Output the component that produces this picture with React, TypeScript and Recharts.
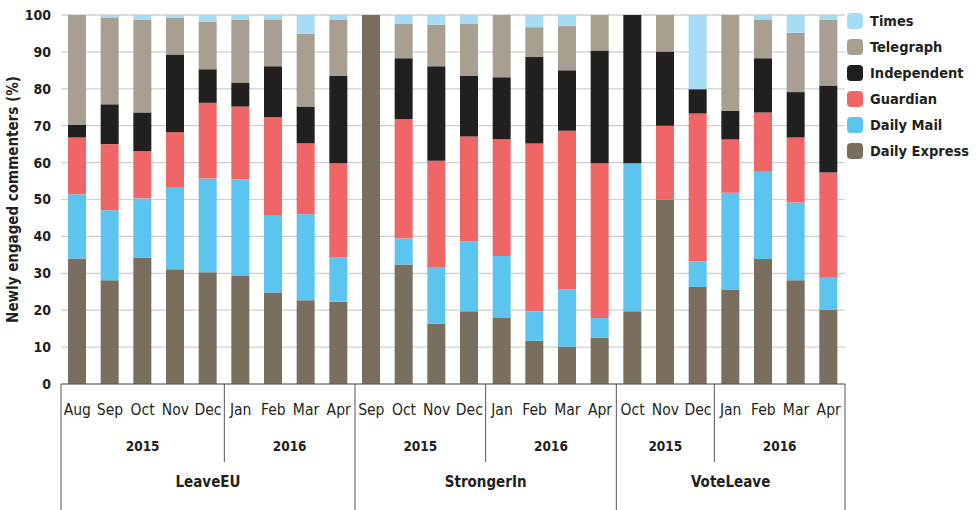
import React from 'react';
import { BarChart, Bar, XAxis, YAxis, CartesianGrid } from 'recharts';

const months = ['Aug','Sep','Oct','Nov','Dec','Jan','Feb','Mar','Apr','Sep','Oct','Nov','Dec','Jan','Feb','Mar','Apr','Oct','Nov','Dec','Jan','Feb','Mar','Apr'];
const years = ['2015','2015','2015','2015','2015','2016','2016','2016','2016','2015','2015','2015','2015','2016','2016','2016','2016','2015','2015','2015','2016','2016','2016','2016'];
const campaigns = ['LeaveEU','LeaveEU','LeaveEU','LeaveEU','LeaveEU','LeaveEU','LeaveEU','LeaveEU','LeaveEU','StrongerIn','StrongerIn','StrongerIn','StrongerIn','StrongerIn','StrongerIn','StrongerIn','StrongerIn','VoteLeave','VoteLeave','VoteLeave','VoteLeave','VoteLeave','VoteLeave','VoteLeave'];

const dailyExpress = [34.0,28.1,34.3,31.1,30.3,29.3,24.8,22.7,22.3, 100,32.4,16.4,19.7,17.9,11.7,10.1,12.5, 19.7,50.0,26.3,25.6,33.9,28.1,20.1];
const dailyMail = [17.4,19.0,16.0,22.1,25.4,26.1,20.8,23.3,12.0, 0,7.0,15.3,19.0,16.8,8.0,15.5,5.4, 40.1,0,6.9,26.2,23.6,21.1,8.7];
const guardian = [15.4,17.9,12.8,15.0,20.5,19.8,26.7,19.2,25.5, 0,32.4,28.8,28.4,31.6,45.5,43.0,41.9, 0,20.0,40.1,14.5,16.1,17.6,28.5];
const independent = [3.5,10.8,10.5,21.1,9.1,6.5,13.8,10.0,23.7, 0,16.5,25.6,16.4,16.8,23.4,16.4,30.6, 40.2,20.1,6.6,7.7,14.7,12.3,23.6];
const telegraph = [29.7,23.5,25.2,10.0,12.8,17.1,12.7,19.7,15.3, 0,9.4,11.3,14.2,16.9,8.1,12.0,9.6, 0,9.9,0,26.0,10.5,16.1,17.9];
const times = [0,0.7,1.2,0.7,1.9,1.2,1.2,5.1,1.2, 0,2.3,2.6,2.3,0,3.3,3.0,0, 0,0,20.1,0,1.2,4.8,1.2];

const yTicks = [0,10,20,30,40,50,60,70,80,90,100];

const series = [
  { key: 'express', name: 'Daily Express', color: '#7a6e5e', values: dailyExpress },
  { key: 'mail', name: 'Daily Mail', color: '#5bc5ef', values: dailyMail },
  { key: 'guardian', name: 'Guardian', color: '#f06666', values: guardian },
  { key: 'independent', name: 'Independent', color: '#221f1f', values: independent },
  { key: 'telegraph', name: 'Telegraph', color: '#a89f91', values: telegraph },
  { key: 'times', name: 'Times', color: '#a6dcf5', values: times },
];

const data = months.map((m, i) => {
  const row: any = { key: i, month: m, year: years[i], campaign: campaigns[i] };
  series.forEach(s => { row[s.key] = s.values[i]; });
  return row;
});

const W = 976, H = 510;
const XH = 126;
const M = { top: 15, right: 131, bottom: 0, left: 0 };
const YW = 61;
const PLOT_W = W - M.left - M.right - YW;
const PLOT_BOTTOM = H - M.bottom - XH;
const N = data.length;
const FONT = "'DejaVu Sans Condensed', 'DejaVu Sans', sans-serif";
const TXT = '#231f20';

function MonthTick(props: any) {
  const { x } = props;
  const i = props.index ?? props.payload?.index ?? 0;
  const band = PLOT_W / N;
  const els: any[] = [];
  els.push(<text key="m" x={x} y={PLOT_BOTTOM + 31} textAnchor="middle" fontFamily={FONT} fontSize={15.5} fill={TXT}>{months[i]}</text>);
  const newCamp = i === 0 || campaigns[i] !== campaigns[i - 1];
  const newYear = newCamp || years[i] !== years[i - 1];
  if (newYear) {
    let n = 1;
    while (i + n < N && campaigns[i + n] === campaigns[i] && years[i + n] === years[i]) n++;
    const cx = x + ((n - 1) / 2) * band;
    els.push(<text key="y" x={cx} y={PLOT_BOTTOM + 67} textAnchor="middle" fontFamily={FONT} fontWeight="bold" fontSize={13.5} fill={TXT}>{years[i]}</text>);
    if (!newCamp) {
      els.push(<line key="yl" x1={x - band / 2} x2={x - band / 2} y1={PLOT_BOTTOM} y2={PLOT_BOTTOM + 78} stroke="#555" strokeWidth={1} />);
    }
  }
  if (newCamp) {
    let n = 1;
    while (i + n < N && campaigns[i + n] === campaigns[i]) n++;
    const cx = x + ((n - 1) / 2) * band;
    els.push(<text key="c" x={cx} y={PLOT_BOTTOM + 103} textAnchor="middle" fontFamily={FONT} fontWeight="bold" fontSize={15} fill={TXT}>{campaigns[i]}</text>);
    els.push(<line key="cl" x1={x - band / 2} x2={x - band / 2} y1={PLOT_BOTTOM} y2={H} stroke="#555" strokeWidth={1} />);
  }
  if (i === N - 1) {
    els.push(<line key="end" x1={x + band / 2} x2={x + band / 2} y1={PLOT_BOTTOM} y2={H} stroke="#555" strokeWidth={1} />);
  }
  return <g>{els}</g>;
}

function LegendBox() {
  const items = [...series].reverse();
  return (
    <div style={{ position: 'absolute', left: 847, top: 8, fontFamily: FONT }}>
      {items.map(s => (
        <div key={s.key} style={{ display: 'flex', alignItems: 'center', height: 26, whiteSpace: 'nowrap' }}>
          <div style={{ width: 16, height: 16, borderRadius: 4, background: s.color, marginRight: 7, flex: 'none' }} />
          <span style={{ fontSize: 14.5, fontWeight: 'bold', color: TXT }}>{s.name}</span>
        </div>
      ))}
    </div>
  );
}

export default function App() {
  return (
    <div style={{ position: 'absolute', left: 0, top: 0, width: W, height: H, background: '#fff' }}>
      <BarChart width={W} height={H} data={data} margin={M} barSize={18}>
        <CartesianGrid vertical={false} stroke="#cfcfcf" strokeWidth={1.2} />
        <XAxis dataKey="key" interval={0} tickLine={false} axisLine={{ stroke: '#555' }} tick={<MonthTick />} height={XH} />
        <YAxis width={YW} domain={[0, 100]} ticks={yTicks} interval={0} axisLine={false} tickLine={false} tickMargin={4}
          tick={{ fontFamily: FONT, fontSize: 14, fontWeight: 'bold', fill: TXT }}
          label={{ value: 'Newly engaged commenters (%)', angle: -90, position: 'insideLeft', dx: 8, style: { fontFamily: FONT, fontSize: 15, fontWeight: 'bold', fill: TXT, textAnchor: 'middle' } }} />
        {series.map(s => (
          <Bar key={s.key} dataKey={s.key} name={s.name} stackId="a" fill={s.color} isAnimationActive={false} />
        ))}
      </BarChart>
      <LegendBox />
    </div>
  );
}
